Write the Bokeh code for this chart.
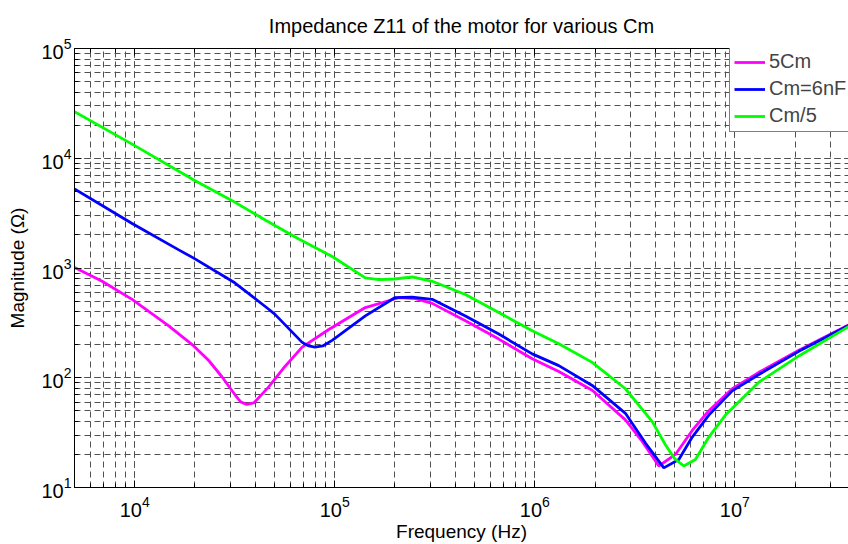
from bokeh.plotting import figure
from bokeh.models import (LogAxis, LogTicker, Legend, LegendItem, Range1d)
from bokeh.embed import file_html
from bokeh.resources import INLINE

# ---- data ----
freq_5cm = [5000, 6871, 9705, 14790, 19720, 23440, 27350, 31840, 33880, 36310,
            39360, 46770, 56230, 68710, 93330, 142200, 208900, 252900, 306900,
            449800, 660700, 970600, 1.318e6, 1.936e6, 2.838e6, 3.443e6, 4.169e6,
            5.047e6, 6.124e6, 7.413e6, 9.705e6, 1.318e7, 2.089e7, 3.7e7]
mag_5cm = [1012, 757, 518, 297, 195, 143.6, 101.6, 69.2, 60.3, 57.1,
           58.9, 82.6, 126, 190, 275, 436, 536, 525, 476,
           330, 225, 149, 114, 76.9, 41.3, 26.3, 15.7,
           20, 33.1, 50.1, 79.4, 112, 178, 302]

freq_6nf = [5000, 9705, 16600, 19720, 31620, 46770, 50120, 68710, 74130, 79430,
            87100, 97050, 142200, 199500, 243800, 306900, 449800, 660700, 970600,
            1.318e6, 1.936e6, 2.838e6, 3.573e6, 4.416e6, 5.248e6, 6.124e6,
            7.413e6, 9.705e6, 1.318e7, 2.089e7, 3.7e7]
mag_6nf = [5248, 2547, 1462, 1230, 733, 421, 380, 210, 195, 190,
           195, 219, 366, 536, 543, 518, 366, 250, 165,
           129, 85.1, 47.4, 25.4, 15.1, 18, 28.8,
           45.7, 75.9, 107, 174, 299]

freq_cm5 = [5000, 10000, 19950, 30550, 44670, 66070, 97050, 142200, 166000,
            199500, 243800, 306900, 449800, 660700, 970600, 1.318e6, 1.936e6,
            2.838e6, 3.864e6, 4.498e6, 5.012e6, 5.559e6, 6.353e6, 7.413e6,
            8.974e6, 1.318e7, 2.089e7, 3.7e7]
mag_cm5 = [26610, 13030, 6270, 4130, 2754, 1837, 1274, 813, 783,
           794, 830, 757, 574, 393, 268, 204, 138,
           79.4, 39.8, 24.5, 18.2, 15.7, 18, 28.8,
           45.7, 91.2, 158, 292]

series_labels = ["5Cm", "Cm=6nF", "Cm/5"]
series_colors = ["#FF00FF", "#0000FF", "#00FF00"]

FONT = "Liberation Sans"

p = figure(width=848, height=544, x_axis_type="log", y_axis_type="log",
           x_range=Range1d(5e3, 3.7e7), y_range=Range1d(10, 1e5),
           output_backend="svg", toolbar_location=None,
           min_border_left=74, min_border_right=0, min_border_top=47,
           min_border_bottom=54,
           title="Impedance Z11 of the motor for various Cm")
p.outline_line_color = None
p.background_fill_color = "white"
p.border_fill_color = "white"

p.title.text_font = FONT
p.title.text_font_size = "20px"
p.title.text_font_style = "normal"
p.title.align = "center"
p.title.text_color = "black"
p.title.standoff = 24

bottom_axis = p.below[0]
left_axis = p.left[0]

renderers = []
for f, m, c in zip([freq_5cm, freq_6nf, freq_cm5], [mag_5cm, mag_6nf, mag_cm5], series_colors):
    r = p.line(f, m, line_color=c, line_width=2.8)
    renderers.append(r)

# top axis for ticks only (box style)
top_axis = LogAxis(ticker=LogTicker(), major_label_text_font_size="1px",
                   major_label_text_alpha=0.0, major_label_standoff=0)
p.add_layout(top_axis, "above")

for ax in [bottom_axis, left_axis, top_axis]:
    ax.axis_line_color = "black"
    ax.axis_line_width = 1
    ax.major_tick_in = 7
    ax.major_tick_out = 0
    ax.minor_tick_in = 4
    ax.minor_tick_out = 0
    ax.major_tick_line_color = "black"
    ax.minor_tick_line_color = "black"
    ax.major_label_text_font = FONT

bottom_axis.major_label_text_color = "black"
left_axis.major_label_text_color = "black"
bottom_axis.major_label_text_font_size = "20px"
left_axis.major_label_text_font_size = "20px"
bottom_axis.major_label_standoff = 8
left_axis.major_label_standoff = 3

bottom_axis.axis_label = "Frequency (Hz)"
left_axis.axis_label = "Magnitude (Ω)"
for ax in [bottom_axis, left_axis]:
    ax.axis_label_text_font = FONT
    ax.axis_label_text_font_size = "19px"
    ax.axis_label_text_font_style = "normal"
    ax.axis_label_text_color = "black"
bottom_axis.axis_label_standoff = 1
left_axis.axis_label_standoff = 10

for g in [p.xgrid[0], p.ygrid[0]]:
    g.grid_line_color = "#505050"
    g.grid_line_width = 1
    g.grid_line_dash = "6 4"
    g.minor_grid_line_color = "#505050"
    g.minor_grid_line_width = 1
    g.minor_grid_line_dash = "6 4"

legend = Legend(items=[LegendItem(label=l, renderers=[r]) for l, r in zip(series_labels, renderers)],
                location=(655, 355), border_line_color="black", border_line_width=1,
                background_fill_color="white", background_fill_alpha=1.0,
                label_text_font=FONT, label_text_font_size="20px",
                glyph_width=31, glyph_height=20, label_height=20, label_standoff=4,
                spacing=4, padding=4, margin=0)
p.add_layout(legend)

open("out.html", "w").write(file_html(p, INLINE))
